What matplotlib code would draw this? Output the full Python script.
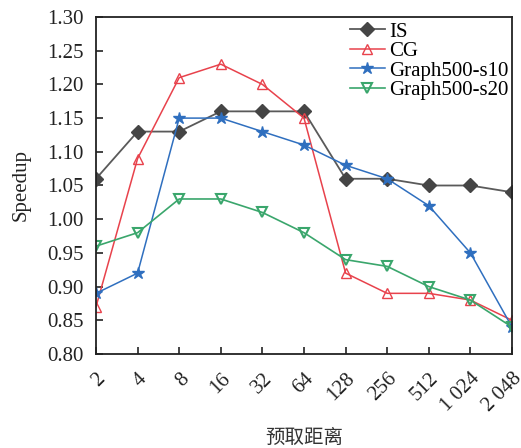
import matplotlib
matplotlib.use("Agg")
import matplotlib.pyplot as plt
import matplotlib.transforms as mtrans
import numpy as np

categories = ["2", "4", "8", "16", "32", "64", "128", "256", "512", "1 024", "2 048"]
is_vals = [1.06, 1.13, 1.13, 1.16, 1.16, 1.16, 1.06, 1.06, 1.05, 1.05, 1.04]
cg_vals = [0.87, 1.09, 1.21, 1.23, 1.20, 1.15, 0.92, 0.89, 0.89, 0.88, 0.85]
s10_vals = [0.89, 0.92, 1.15, 1.15, 1.13, 1.11, 1.08, 1.06, 1.02, 0.95, 0.84]
s20_vals = [0.96, 0.98, 1.03, 1.03, 1.01, 0.98, 0.94, 0.93, 0.90, 0.88, 0.84]
y_ticks = [0.80, 0.85, 0.90, 0.95, 1.00, 1.05, 1.10, 1.15, 1.20, 1.25, 1.30]

plt.rcParams['font.family'] = ['Liberation Serif', 'Noto Sans CJK SC']
plt.rcParams['font.size'] = 15

fig = plt.figure(figsize=(5.21, 4.48), dpi=100)
ax = fig.add_axes([96/521, 1-354/448, (512-96)/521, (354-17)/448])

x = np.arange(len(categories))
ax.plot(x, is_vals, color='#5a5a5a', lw=1.3, marker='D', ms=7, mfc='#454545', mec='#454545', label='IS')
ax.plot(x, cg_vals, color='#e8424c', lw=1.1, marker='^', ms=7.5, mfc='none', mec='#e8424c', label='CG')
ax.plot(x, s10_vals, color='#2f6fbf', lw=1.1, marker='*', ms=9, mfc='#2f6fbf', mec='#2f6fbf', label='Graph500-s10')
ax.plot(x, s20_vals, color='#3aa66c', lw=1.2, marker='v', ms=7.5, mfc='none', mec='#3aa66c', mew=1.5, label='Graph500-s20')

ax.set_xlim(0, len(categories) - 1)
ax.set_ylim(0.80, 1.30)
ax.set_yticks(y_ticks)
ax.set_yticklabels([f"{v:.2f}" for v in y_ticks])
ax.set_xticks(x)
ax.set_xticklabels(categories, rotation=45, ha='right', va='top', rotation_mode='anchor')
xlabels = ax.get_xticklabels()
for i, lbl in enumerate(xlabels):
    dx = 3 if i < len(xlabels) - 1 else -10
    lbl.set_transform(lbl.get_transform() + mtrans.ScaledTranslation(dx/100, 0, fig.dpi_scale_trans))
ax.tick_params(direction='in', length=5, width=1.2, colors='#222222', labelsize=15, labelcolor='#222222')
ax.tick_params(axis='y', pad=9)
ax.tick_params(axis='x', pad=11)
for s in ax.spines.values():
    s.set_linewidth(1.3)
    s.set_color('#222222')

ax.set_ylabel('Speedup', fontsize=15, labelpad=12, color='#222222')
fig.text(304/521, 1-437/448, '预取距离', fontsize=14, color='#333333',
         ha='center', va='center', family=['Noto Sans CJK SC'])

leg = ax.legend(loc='upper right', frameon=False, fontsize=15, handlelength=1.7,
                handletextpad=0.2, labelspacing=0.0, borderaxespad=0.0,
                bbox_to_anchor=(1.012, 1.01))

fig.savefig('out.png', dpi=100)
